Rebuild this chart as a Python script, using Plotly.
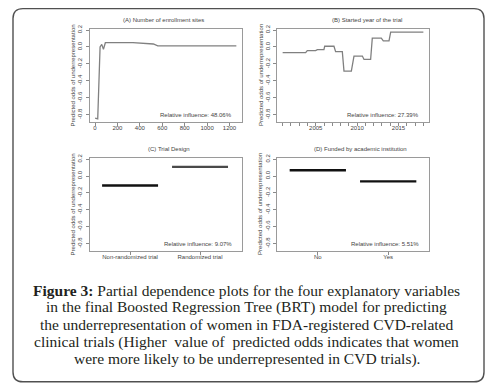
import plotly.graph_objects as go

W, H = 489, 390

# ---------------- data ----------------
sites_x = [1, 24, 45, 60, 75, 92, 338, 450, 520, 560, 1261]
sites_y = [-0.84, -0.85, 0.0, 0.03, -0.027, 0.05, 0.05, 0.04, 0.035, 0.012, 0.012]

year_x = [2001.0, 2003.78, 2003.98, 2004.99, 2005.19, 2005.99, 2006.08, 2007.2, 2007.4,
          2008.21, 2008.41, 2009.3, 2009.62, 2010.63, 2010.83, 2011.63, 2011.83,
          2012.92, 2013.16, 2013.85, 2014.05, 2018.0]
year_y = [-0.068, -0.068, -0.044, -0.044, -0.032, -0.032, 0.008, 0.008, -0.056,
          -0.056, -0.285, -0.285, -0.108, -0.108, -0.148, -0.148, 0.104,
          0.104, 0.072, 0.072, 0.176, 0.176]

design_cats = ["Non-randomized trial", "Randomized trial"]
design_vals = [-0.112, 0.108]

funded_cats = ["No", "Yes"]
funded_vals = [0.068, -0.064]

y_ticks = [-0.8, -0.6, -0.4, -0.2, 0.0, 0.2]
y_ticktext = ["-0.8", "-0.6", "-0.4", "-0.2", "0.0", "0.2"]
sites_ticks = [0, 200, 400, 600, 800, 1000, 1200]
year_ticks = list(range(2001, 2019))
year_ticktext = [str(y) if y in (2005, 2010, 2015) else "" for y in year_ticks]

titles = ["(A) Number of enrollment sites", "(B) Started year of the trial",
          "(C) Trial Design", "(D) Funded by academic institution"]
influences = ["Relative influence: 48.06%", "Relative influence: 27.39%",
              "Relative influence: 9.07%", "Relative influence: 5.51%"]
ylabel = "Predicted odds of underrepresentation"

caption_lines = [
    "<b>Figure 3:</b> Partial dependence plots for the four explanatory variables",
    "in the final Boosted Regression Tree (BRT) model for predicting",
    "the underrepresentation of women in FDA-registered CVD-related",
    "clinical trials (Higher  value of  predicted odds indicates that women",
    "were more likely to be underrepresented in CVD trials).",
]

# ---------------- helpers ----------------
def px(x):
    return x / W

def py(y):
    return 1 - y / H

SANS = "Liberation Sans"
SERIF = "Liberation Serif"
TXT = "#444444"

# panel boxes in pixels (left, top, right, bottom)
boxes = [(89.5, 25, 242, 119.5), (277, 25, 429, 119.5),
         (89.5, 155.5, 242, 249.5), (277, 155.5, 429, 249.5)]

fig = go.Figure()

# panel A
fig.add_trace(go.Scatter(x=sites_x, y=sites_y, mode="lines",
                         line=dict(color="#808080", width=1.3),
                         xaxis="x", yaxis="y", showlegend=False))
# panel B
fig.add_trace(go.Scatter(x=year_x, y=year_y, mode="lines",
                         line=dict(color="#808080", width=1.3),
                         xaxis="x2", yaxis="y2", showlegend=False))
# panel C
design_colors = ["#111111", "#4a4a4a"]
for i, v in enumerate(design_vals):
    pos = i + 1
    fig.add_trace(go.Scatter(x=[pos - 0.4, pos + 0.4], y=[v, v], mode="lines",
                             line=dict(color=design_colors[i], width=2.4),
                             xaxis="x3", yaxis="y3", showlegend=False))
# panel D
for i, v in enumerate(funded_vals):
    pos = i + 1
    fig.add_trace(go.Scatter(x=[pos - 0.4, pos + 0.4], y=[v, v], mode="lines",
                             line=dict(color="#111111", width=2.4),
                             xaxis="x4", yaxis="y4", showlegend=False))

common_axis = dict(showgrid=False, zeroline=False, showline=True, mirror=True,
                   linecolor="#9a9a9a", linewidth=1, ticks="outside", ticklen=3,
                   tickcolor="#8a8a8a", tickwidth=1,
                   tickfont=dict(family=SANS, size=6, color=TXT))

yrange = [-0.89, 0.215]
layout_axes = {}
xspecs = [
    dict(range=[-49.4, 1311.4], tickvals=sites_ticks, ticktext=[str(t) for t in sites_ticks]),
    dict(range=[2000.32, 2018.68], tickvals=year_ticks, ticktext=year_ticktext),
    dict(range=[0.42, 2.6], tickvals=[1, 2], ticktext=design_cats),
    dict(range=[0.42, 2.58], tickvals=[1, 2], ticktext=funded_cats),
]
for k, (b, xs) in enumerate(zip(boxes, xspecs)):
    l, t, r, bt = b
    sx = "xaxis" if k == 0 else f"xaxis{k+1}"
    sy = "yaxis" if k == 0 else f"yaxis{k+1}"
    xa = dict(common_axis)
    xa.update(xs)
    xa.update(domain=[px(l), px(r)], anchor="y" if k == 0 else f"y{k+1}",
              tickmode="array", ticklabelstandoff=-3)
    ya = dict(common_axis)
    ya.update(range=yrange, tickvals=y_ticks, ticktext=y_ticktext, tickmode="array",
              tickangle=-90, domain=[py(bt), py(t)],
              anchor="x" if k == 0 else f"x{k+1}", ticklabelstandoff=1)
    layout_axes[sx] = xa
    layout_axes[sy] = ya

annotations = []
title_pos = [(163.5, 15.7), (367, 15.7), (168.5, 146.8), (360, 146.8)]
for k, (b, ttl, inf) in enumerate(zip(boxes, titles, influences)):
    l, t, r, bt = b
    tx, ty = title_pos[k]
    annotations.append(dict(x=px(tx), y=py(ty), xref="paper", yref="paper",
                            text=ttl, showarrow=False, xanchor="center", yanchor="middle",
                            font=dict(family=SANS, size=6, color=TXT)))
    annotations.append(dict(x=px(r - 8.5), y=py(bt - 7), xref="paper", yref="paper",
                            text=inf, showarrow=False, xanchor="right", yanchor="middle",
                            font=dict(family=SANS, size=6, color=TXT)))
    ylx = 73 if k % 2 == 0 else 260.5
    annotations.append(dict(x=px(ylx), y=py((t + bt) / 2), xref="paper", yref="paper",
                            text=ylabel, showarrow=False, textangle=-90,
                            xanchor="center", yanchor="middle",
                            font=dict(family=SANS, size=6, color=TXT)))

cap_y = [289.3, 306.5, 323.8, 341, 358.3]
for line, yy in zip(caption_lines, cap_y):
    annotations.append(dict(x=px(246.5), y=py(yy), xref="paper", yref="paper",
                            text=line, showarrow=False, xanchor="center", yanchor="middle",
                            font=dict(family=SERIF, size=15.5, color="#231f20")))

# rounded frame
x0, y0, x1, y1, rr = 13, 4.7, 484, 381.7, 10
def P(x, y):
    return f"{px(x):.5f},{py(y):.5f}"
frame = (f"M {P(x0 + rr, y0)} L {P(x1 - rr, y0)} Q {P(x1, y0)} {P(x1, y0 + rr)} "
         f"L {P(x1, y1 - rr)} Q {P(x1, y1)} {P(x1 - rr, y1)} "
         f"L {P(x0 + rr, y1)} Q {P(x0, y1)} {P(x0, y1 - rr)} "
         f"L {P(x0, y0 + rr)} Q {P(x0, y0)} {P(x0 + rr, y0)} Z")

fig.update_layout(
    width=W, height=H, margin=dict(l=0, r=0, t=0, b=0),
    paper_bgcolor="white", plot_bgcolor="white",
    annotations=annotations,
    shapes=[dict(type="path", path=frame, xref="paper", yref="paper",
                 line=dict(color="#505050", width=1.4))],
    **layout_axes,
)

fig.write_html("out.html", config={"displayModeBar": False},
               post_script="document.body.style.margin='0';"
                           "document.body.style.overflow='hidden';")
